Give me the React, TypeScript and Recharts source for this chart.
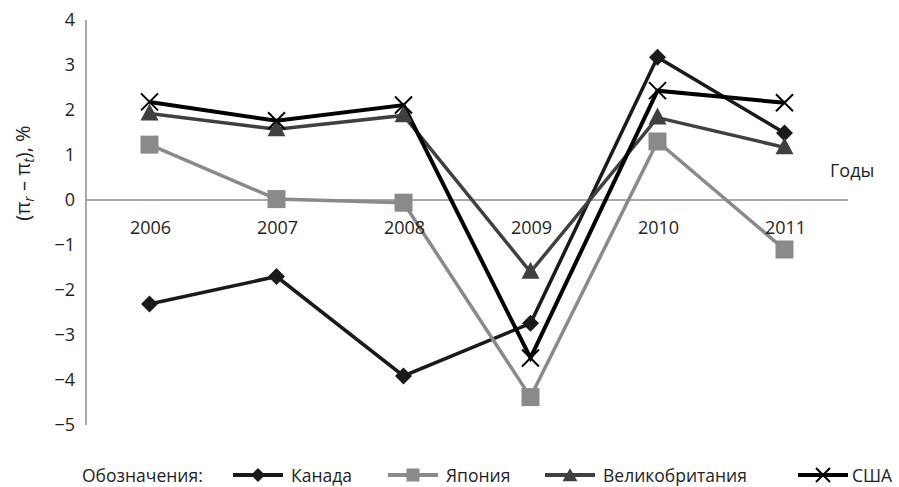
import React from 'react';
import { LineChart, Line, XAxis, YAxis, ReferenceLine } from 'recharts';

const years = ['2006', '2007', '2008', '2009', '2010', '2011'];
const canada = [-2.31, -1.7, -3.91, -2.74, 3.17, 1.49];
const japan = [1.23, 0.02, -0.06, -4.38, 1.3, -1.1];
const uk = [1.92, 1.57, 1.88, -1.6, 1.83, 1.17];
const usa = [2.18, 1.76, 2.11, -3.51, 2.43, 2.16];
const yTicks = [-5, -4, -3, -2, -1, 0, 1, 2, 3, 4];

const data = years.map((year, i) => ({
    year,
    canada: canada[i],
    japan: japan[i],
    uk: uk[i],
    usa: usa[i],
}));

const FONT = '"Open Sans", sans-serif';
const TOP = 20;
const PLOT_H = 405;
// x ticks sit under the zero line, not at the bottom
const ZERO_Y = TOP + (PLOT_H * 4) / 9;

const diamond = (cx: number, cy: number, r: number, fill: string) => (
    <path d={`M${cx},${cy - r}L${cx + r},${cy}L${cx},${cy + r}L${cx - r},${cy}Z`} fill={fill} />
);
const square = (cx: number, cy: number, s: number, fill: string) => (
    <rect x={cx - s / 2} y={cy - s / 2} width={s} height={s} fill={fill} />
);
const triangle = (cx: number, cy: number, w: number, h: number, fill: string) => (
    <path d={`M${cx},${cy - h * 0.6}L${cx + w / 2},${cy + h * 0.4}L${cx - w / 2},${cy + h * 0.4}Z`} fill={fill} />
);
const cross = (cx: number, cy: number, r: number) => (
    <path d={`M${cx - r},${cy - r}L${cx + r},${cy + r}M${cx + r},${cy - r}L${cx - r},${cy + r}`} stroke="#000" strokeWidth={2} fill="none" />
);

const XTick = ({ x, payload }: any) => (
    <text x={x + 1} y={ZERO_Y + 34} textAnchor="middle" fontFamily={FONT} fontSize={18} fill="#1e1e1e">
        {payload.value}
    </text>
);

const fmt = (v: number) => (v < 0 ? '\u2212' + Math.abs(v) : String(v));

const legendItems = [
    { label: 'Канада', color: '#1a1a1a', marker: 'diamond', x: 233 },
    { label: 'Япония', color: '#8a8a8a', marker: 'square', x: 388 },
    { label: 'Великобритания', color: '#404040', marker: 'triangle', x: 545 },
    { label: 'США', color: '#000', marker: 'cross', x: 798 },
];

const LegendIcon = ({ color, marker }: any) => {
    const c = 10;
    return (
        <svg width={52} height={20} style={{ display: 'block' }}>
            <line x1={0} y1={c} x2={50} y2={c} stroke={color} strokeWidth={4} />
            {marker === 'diamond' && diamond(25, c, 7, color)}
            {marker === 'square' && square(25, c, 13, color)}
            {marker === 'triangle' && triangle(25, c + 1, 15, 13, color)}
            {marker === 'cross' && cross(25, c, 7)}
        </svg>
    );
};

export default function App() {
    return (
        <div style={{ position: 'absolute', left: 0, top: 0, width: 899, height: 487, background: '#fff', fontFamily: FONT }}>
            <LineChart
                width={899}
                height={487}
                data={data}
                margin={{ top: TOP, right: 51, left: 0, bottom: 61 }}
            >
                <XAxis
                    dataKey="year"
                    axisLine={false}
                    tickLine={false}
                    height={1}
                    tick={<XTick />}
                    interval={0}
                    padding={{ left: 63.5, right: 63.5 }}
                />
                <YAxis
                    width={86}
                    domain={[-5, 4]}
                    ticks={yTicks}
                    interval={0}
                    tickFormatter={fmt}
                    axisLine={{ stroke: '#8c8c8c', strokeWidth: 1.5 }}
                    tickLine={false}
                    tickSize={0}
                    tickMargin={11}
                    tick={{ fontFamily: FONT, fontSize: 18, fill: '#1e1e1e' }}
                />
                <ReferenceLine y={0} stroke="#8c8c8c" strokeWidth={1.5} />
                <Line dataKey="canada" stroke="#1a1a1a" strokeWidth={3.5} isAnimationActive={false}
                    dot={(p: any) => <g key={p.index}>{diamond(p.cx, p.cy, 8.5, '#1a1a1a')}</g>} />
                <Line dataKey="japan" stroke="#8a8a8a" strokeWidth={3.5} isAnimationActive={false}
                    dot={(p: any) => <g key={p.index}>{square(p.cx, p.cy, 18, '#8a8a8a')}</g>} />
                <Line dataKey="uk" stroke="#404040" strokeWidth={3.5} isAnimationActive={false}
                    dot={(p: any) => <g key={p.index}>{triangle(p.cx, p.cy, 18, 17, '#404040')}</g>} />
                <Line dataKey="usa" stroke="#000" strokeWidth={4} isAnimationActive={false}
                    dot={(p: any) => <g key={p.index}>{cross(p.cx, p.cy, 8.5)}</g>} />
                <text x={830} y={177} fontFamily={FONT} fontSize={18} fill="#1e1e1e">Годы</text>
                <text
                    x={22}
                    y={173}
                    transform="rotate(-90 22 173)"
                    textAnchor="middle"
                    dominantBaseline="central"
                    fontFamily={FONT}
                    fontSize={20}
                    fill="#1e1e1e"
                >
                    (π<tspan dy={6} fontSize={14} fontStyle="italic">r</tspan>
                    <tspan dy={-6}> – π</tspan>
                    <tspan dy={6} fontSize={14} fontStyle="italic">t</tspan>
                    <tspan dy={-6}>), %</tspan>
                </text>
            </LineChart>
            <div style={{ position: 'absolute', left: 0, top: 463, width: 899, height: 24, fontSize: 17.5, color: '#1e1e1e' }}>
                <span style={{ position: 'absolute', left: 82, top: 0 }}>Обозначения:</span>
                {legendItems.map((it) => (
                    <div key={it.label} style={{ position: 'absolute', left: it.x, top: 1, display: 'flex', alignItems: 'center' }}>
                        <LegendIcon color={it.color} marker={it.marker} />
                        <span style={{ marginLeft: it.marker === 'cross' ? 2 : 6, lineHeight: '22px' }}>{it.label}</span>
                    </div>
                ))}
            </div>
        </div>
    );
}
